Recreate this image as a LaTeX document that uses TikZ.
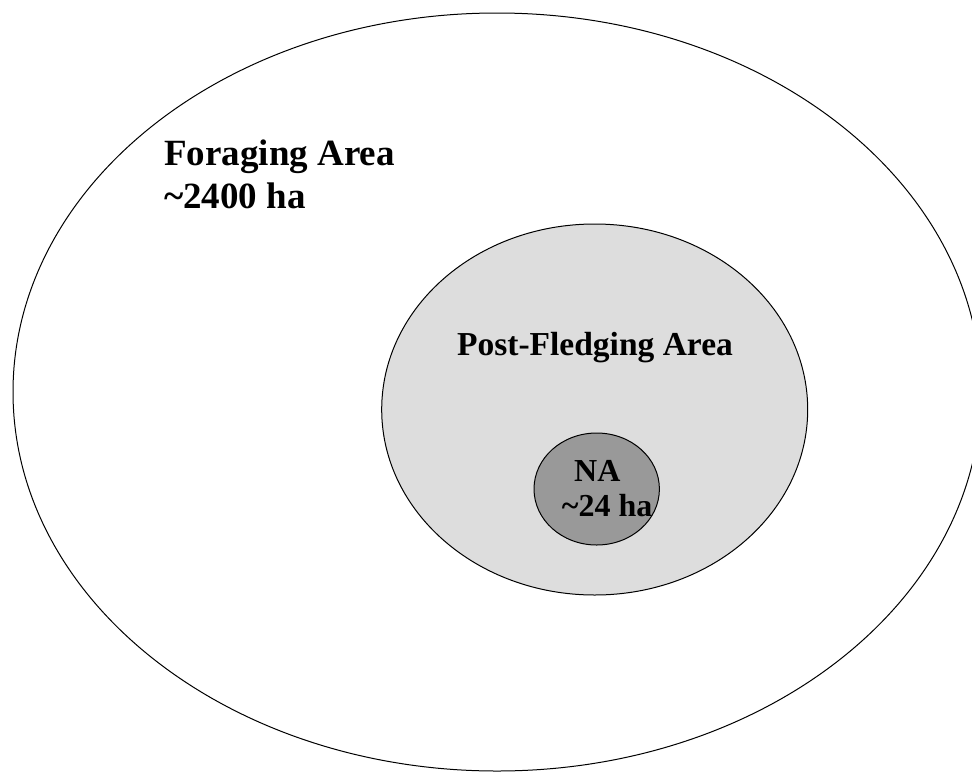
\documentclass[tikz,border=0pt]{standalone}
\usepackage{fontspec}
\setmainfont{Liberation Serif}
\definecolor{pfagray}{HTML}{DDDDDD}
\definecolor{nagray}{HTML}{999999}
\tikzset{
  zone/.style={draw=black, line width=1pt},
  bigtext/.style={inner sep=0pt, anchor=base west, font=\bfseries\fontsize{37}{43}\selectfont},
  midtext/.style={inner sep=0pt, anchor=base, font=\bfseries\fontsize{33.5}{40}\selectfont},
  smalltext/.style={inner sep=0pt, anchor=base west, font=\bfseries\fontsize{32}{36}\selectfont}
}
\begin{document}
\begin{tikzpicture}[x=1pt,y=-1pt]
\useasboundingbox (0,0) rectangle (972,772);
\clip (0,0) rectangle (972,772);
\fill[white] (0,0) rectangle (972,772);
% outer ellipse: foraging area
\draw[zone, fill=white] (497,392) ellipse [x radius=484pt, y radius=379pt];
% middle ellipse: post-fledging area
\draw[zone, fill=pfagray] (594.7,409.5) ellipse [x radius=213pt, y radius=185.5pt];
% inner ellipse: nest area
\draw[zone, fill=nagray] (596.7,489) ellipse [x radius=62.7pt, y radius=56pt];
% labels
\node[bigtext] (fa1) at (164,165) {Foraging Area};
\node[bigtext] (fa2) at (164,208.3) {\textasciitilde2400 ha};
\node[midtext] (pfa) at (595,355.7) {Post-Fledging Area};
\node[smalltext] (na1) at (574,481) {NA};
\node[smalltext] (na2) at (561.7,516.7) {\textasciitilde24 ha};
\end{tikzpicture}
\end{document}
